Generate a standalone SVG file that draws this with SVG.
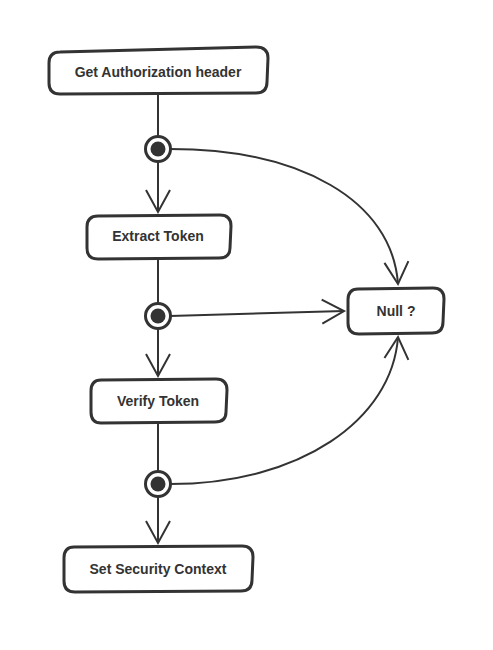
<svg xmlns="http://www.w3.org/2000/svg" width="493" height="650" viewBox="0 0 493 650">
<defs>
<style>
.box{fill:#fff;stroke:#333;stroke-width:3;stroke-linejoin:round}
.lbl{font-family:"Liberation Sans",Arial,sans-serif;font-weight:bold;font-size:14px;fill:#333;text-anchor:middle;dominant-baseline:central}
.ln{fill:none;stroke:#333;stroke-width:2}
.ring{fill:#fff;stroke:#333;stroke-width:3}
.dot{fill:#333}
</style>
<marker id="arr" viewBox="0 0 30 30" refX="24" refY="15" markerWidth="30" markerHeight="30" markerUnits="userSpaceOnUse" orient="auto">
<path d="M2 3 L24 15 L2 27" fill="none" stroke="#333" stroke-width="2"/>
</marker>
</defs>
<rect width="493" height="650" fill="#fff"/>
<g id="connectors">
<line class="ln" x1="158" y1="94" x2="158" y2="212" marker-end="url(#arr)"/>
<line class="ln" x1="158" y1="259" x2="158" y2="376" marker-end="url(#arr)"/>
<line class="ln" x1="158" y1="423" x2="158" y2="543" marker-end="url(#arr)"/>
<path class="ln" d="M170 149 C300 149 392 200 398 284" marker-end="url(#arr)"/>
<path class="ln" d="M170 316 L344 311" marker-end="url(#arr)"/>
<path class="ln" d="M170 484 C300 484 392 420 398 337" marker-end="url(#arr)"/>
</g>
<g id="j1"><circle class="ring" cx="158" cy="149" r="12.5"/><circle class="dot" cx="158" cy="149" r="7.5"/></g>
<g id="j2"><circle class="ring" cx="158" cy="316" r="12.5"/><circle class="dot" cx="158" cy="316" r="7.5"/></g>
<g id="j3"><circle class="ring" cx="158" cy="484" r="12.5"/><circle class="dot" cx="158" cy="484" r="7.5"/></g>
<g id="n1">
<path class="box" d="M60 52 L256 47 Q268 47 268 58 L267 82 Q267 93 256 93 L60 94 Q49 94 49 83 L49 63 Q49 52 60 52 Z"/>
<text class="lbl" x="158" y="72">Get Authorization header</text>
</g>
<g id="n2">
<path class="box" d="M98 216 L220 215 Q231 215 231 226 L230 248 Q230 258 219 258 L98 259 Q87 259 87 248 L87 227 Q87 216 98 216 Z"/>
<text class="lbl" x="158" y="236">Extract Token</text>
</g>
<g id="n3">
<path class="box" d="M101 380 L216 379 Q227 379 227 390 L226 412 Q226 422 215 422 L101 423 Q91 423 91 412 L91 391 Q91 380 101 380 Z"/>
<text class="lbl" x="158" y="401">Verify Token</text>
</g>
<g id="n4">
<path class="box" d="M74 547 L242 546 Q253 546 253 557 L252 580 Q252 591 241 591 L75 592 Q64 592 64 581 L64 558 Q64 547 74 547 Z"/>
<text class="lbl" x="158" y="569">Set Security Context</text>
</g>
<g id="n5">
<path class="box" d="M358 289 L433 288 Q444 288 444 299 L443 322 Q443 333 432 333 L359 334 Q348 334 348 323 L348 300 Q348 289 358 289 Z"/>
<text class="lbl" x="396" y="311">Null ?</text>
</g>
</svg>
